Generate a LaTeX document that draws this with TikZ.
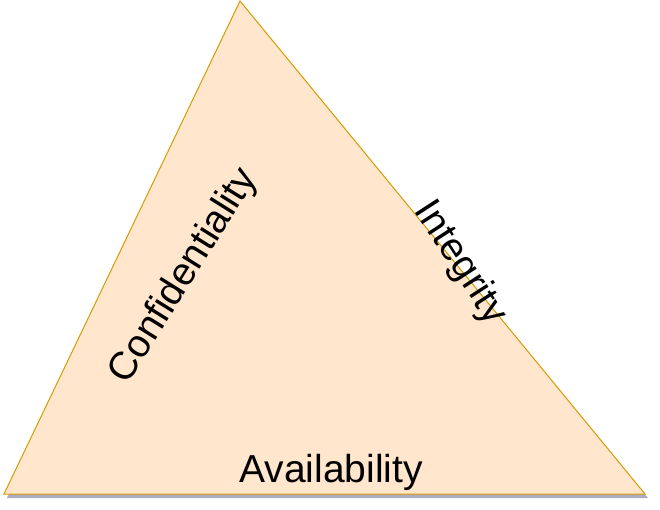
\documentclass[tikz,border=0pt]{standalone}
\usepackage{fontspec}
\setmainfont{Liberation Sans}
\usetikzlibrary{shadows}

\begin{document}
\begin{tikzpicture}[x=1pt, y=1pt,
    label/.style={font=\fontsize{39}{47}\selectfont, inner sep=0pt},
    triad/.style={draw={rgb,255:red,215;green,155;blue,0},
        fill={rgb,255:red,255;green,230;blue,204}, line width=1pt,
        drop shadow={shadow xshift=3pt, shadow yshift=-4pt,
            fill={rgb,255:red,150;green,150;blue,178}, opacity=0.8}}
]
    \useasboundingbox (0,0) rectangle (660,509);
    \coordinate (apex) at (240,508);
    \coordinate (left) at (4,15);
    \coordinate (right) at (645,15);
    \draw[triad] (apex) -- (right) -- (left) -- cycle;
    \node[label, rotate=58] (conf) at (184,233) {Confidentiality};
    \node[label, rotate=-57] (integ) at (460,246) {Integrity};
    \node[label, anchor=base] (avail) at (331,27) {Availability};
\end{tikzpicture}
\end{document}
